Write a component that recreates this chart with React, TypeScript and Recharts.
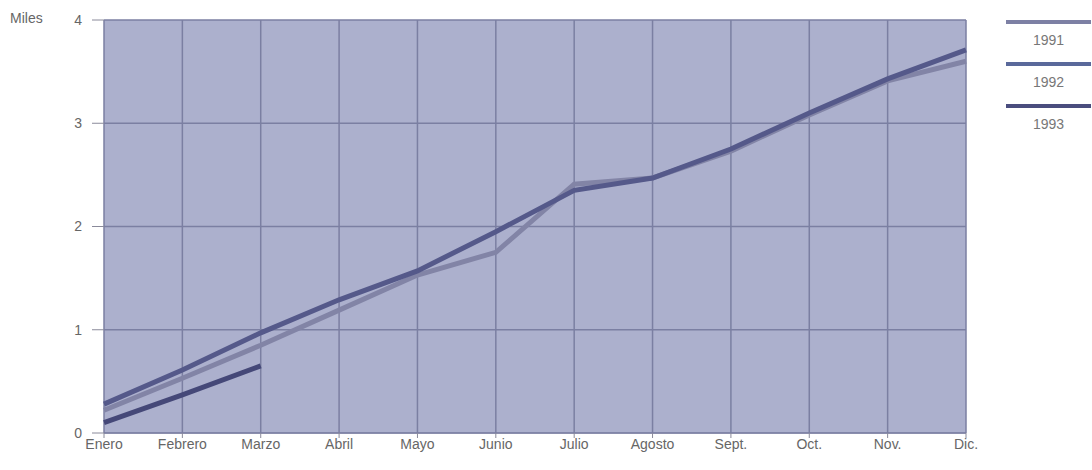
import React from 'react';
import { LineChart, Line, XAxis, YAxis, CartesianGrid } from 'recharts';

const MONTHS = ['Enero', 'Febrero', 'Marzo', 'Abril', 'Mayo', 'Junio', 'Julio', 'Agosto', 'Sept.', 'Oct.', 'Nov.', 'Dic.'];
const Y1991 = [0.22, 0.53, 0.85, 1.19, 1.53, 1.75, 2.41, 2.47, 2.73, 3.08, 3.41, 3.6];
const Y1992 = [0.28, 0.61, 0.97, 1.29, 1.57, 1.95, 2.35, 2.47, 2.75, 3.1, 3.43, 3.71];
const Y1993 = [0.1, 0.37, 0.65, null, null, null, null, null, null, null, null, null];
const Y_TICKS = [0, 1, 2, 3, 4];

const SERIES = [
  { key: 'y1991', name: '1991', color: '#8284a6' },
  { key: 'y1992', name: '1992', color: '#55598a' },
  { key: 'y1993', name: '1993', color: '#454878' },
];
const LEGEND_COLORS = ['#7d80a4', '#5a699b', '#4a4d7e'];

const data = MONTHS.map((m, i) => ({ month: m, y1991: Y1991[i], y1992: Y1992[i], y1993: Y1993[i] }));

const FONT = '"Liberation Sans", Arial, sans-serif';
const TEXT: React.CSSProperties = { fontFamily: FONT, fontSize: 14, fill: '#666' };

export default function App() {
  return (
    <div style={{ position: 'absolute', left: 0, top: 0, width: 1092, height: 470, background: '#fff' }}>
      <div style={{ position: 'absolute', left: 10, top: 10, fontFamily: FONT, fontSize: 14, color: '#666' }}>Miles</div>
      {/* legend on the right */}
      <div style={{ position: 'absolute', left: 1006, top: 20, width: 85, fontFamily: FONT, fontSize: 14, color: '#777' }}>
        {SERIES.map((s, i) => (
          <div key={s.key} style={{ height: 42 }}>
            <div style={{ height: 4, background: LEGEND_COLORS[i] }} />
            <div style={{ textAlign: 'center', paddingTop: 8, lineHeight: '16px' }}>{s.name}</div>
          </div>
        ))}
      </div>
      <LineChart width={1092} height={470} data={data} margin={{ top: 20, right: 126, bottom: 7, left: 0 }}>
        <CartesianGrid fill="#acb0cd" stroke="#7b7fa2" strokeWidth={1.5} strokeOpacity={1} />
        <XAxis dataKey="month" axisLine={{ stroke: '#7b7fa2' }} tickLine={{ stroke: '#8a8a9a' }} tickSize={5}
          tickMargin={1} interval={0} tick={TEXT} />
        <YAxis domain={[0, 4]} ticks={Y_TICKS} width={104} axisLine={false} tickLine={{ stroke: '#8a8a9a' }}
          tickSize={12} tickMargin={10} tick={TEXT} />
        {SERIES.map(s => (
          <Line key={s.key} dataKey={s.key} name={s.name} stroke={s.color} strokeWidth={5} dot={false}
            type="linear" connectNulls={false} isAnimationActive={false} />
        ))}
      </LineChart>
    </div>
  );
}
